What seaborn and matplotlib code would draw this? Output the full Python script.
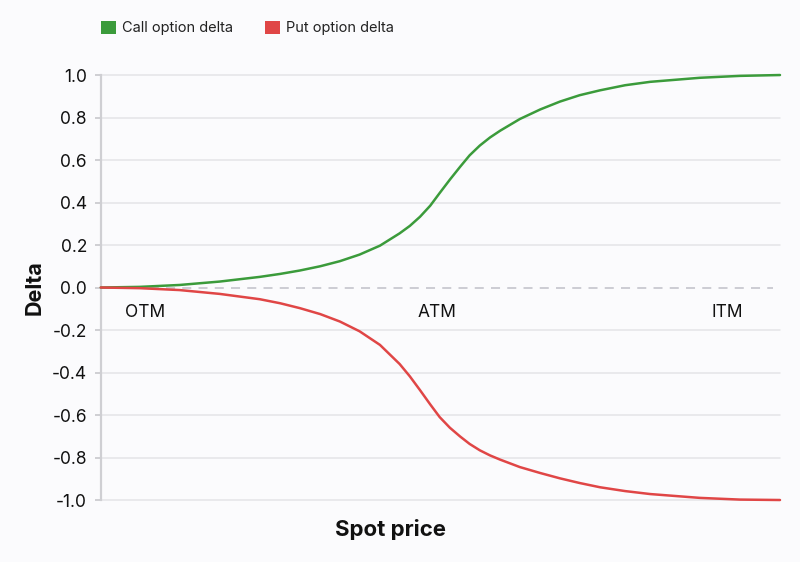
"""call / put option delta versus spot price"""
import matplotlib.pyplot as plt
import pandas as pd
import seaborn as sns
from matplotlib.patches import Patch

# values (spot price in arbitrary units 0-100)
spot = [0, 5.7, 11.6, 17.5, 23.4, 26.4, 29.3, 32.3, 35.2, 38.1, 41.1, 44.0, 45.5,
        47.0, 48.5, 49.9, 51.4, 52.9, 54.3, 55.8, 57.3, 58.8, 61.7, 64.7, 67.6,
        70.5, 73.5, 77.2, 80.9, 88.2, 94.1, 100]
call_delta = [0, 0.003, 0.012, 0.028, 0.05, 0.064, 0.08, 0.1, 0.124, 0.155, 0.197,
              0.255, 0.29, 0.333, 0.385, 0.445, 0.508, 0.568, 0.622, 0.668, 0.706,
              0.738, 0.793, 0.838, 0.875, 0.905, 0.928, 0.952, 0.968, 0.987, 0.996,
              1.0]
put_delta = [0, -0.003, -0.012, -0.03, -0.055, -0.074, -0.097, -0.125, -0.16, -0.206,
             -0.27, -0.36, -0.418, -0.483, -0.55, -0.61, -0.66, -0.701, -0.736,
             -0.766, -0.79, -0.81, -0.845, -0.873, -0.898, -0.92, -0.94, -0.958,
             -0.972, -0.99, -0.998, -1.0]
series_names = ["Call option delta", "Put option delta"]
zone_labels = ["OTM", "ATM", "ITM"]
zone_x = [6.5, 49.5, 92.2]
y_ticks = [-1.0, -0.8, -0.6, -0.4, -0.2, 0.0, 0.2, 0.4, 0.6, 0.8, 1.0]

GREEN = "#3b9b3b"
RED = "#e04646"
BG = "#fbfbfd"

sns.set_style("white")
plt.rcParams["font.family"] = ["Inter", "DejaVu Sans"]

df = pd.DataFrame(
    {
        "spot": spot * 2,
        "delta": call_delta + put_delta,
        "series": [series_names[0]] * len(spot) + [series_names[1]] * len(spot),
    }
)

fig = plt.figure(figsize=(8, 5.62), dpi=100, facecolor=BG)
ax = fig.add_axes([0.126, 0.1103, 0.849, 0.7562])
ax.set_facecolor(BG)

# zero reference + grid
for t in y_ticks:
    if t != 0:
        ax.axhline(t, color="#e4e4e8", lw=1.1, zorder=0, clip_on=False)
ax.axhline(0, color="#c9c9d0", lw=1.3, ls=(0, (5, 4)), zorder=1, xmax=0.99)

sns.lineplot(
    data=df, x="spot", y="delta", hue="series",
    palette=[GREEN, RED], ax=ax, lw=1.8, legend=False, zorder=3,
)
for line in ax.lines:
    line.set_clip_on(False)
    line.set_solid_joinstyle("round")

for lab, x in zip(zone_labels, zone_x):
    ax.text(x, -0.118, lab, ha="center", va="center", fontsize=12.5, color="#111111")

ax.set_xlim(0, 100)
ax.set_ylim(-1, 1)
ax.set_yticks(y_ticks)
ax.set_yticklabels([f"{t:.1f}" for t in y_ticks])
ax.set_xticks([])
ax.tick_params(axis="y", length=4, width=1.2, color="#c8c8cc", labelsize=12.5,
               labelcolor="#111111", pad=6, left=True)
for side in ["top", "right", "bottom"]:
    ax.spines[side].set_visible(False)
ax.spines["left"].set_color("#cfcfd3")
ax.spines["left"].set_linewidth(1.6)

ax.set_ylabel("Delta", fontsize=15.5, fontweight="bold", color="#111111")
ax.yaxis.set_label_coords(-0.083, 0.5)
ax.set_xlabel("Spot price", fontsize=16, fontweight="bold", color="#111111")
ax.xaxis.set_label_coords(0.426, -0.044)

handles = [Patch(facecolor=GREEN, edgecolor="none"), Patch(facecolor=RED, edgecolor="none")]
fig.legend(
    handles, series_names, loc="center left", bbox_to_anchor=(0.11, 0.95),
    ncol=2, frameon=False, fontsize=10.5, handlelength=1.0, handleheight=1.0,
    handletextpad=0.45, columnspacing=2.2, labelcolor="#222222",
)

fig.savefig("out.png", dpi=100, facecolor=BG)
